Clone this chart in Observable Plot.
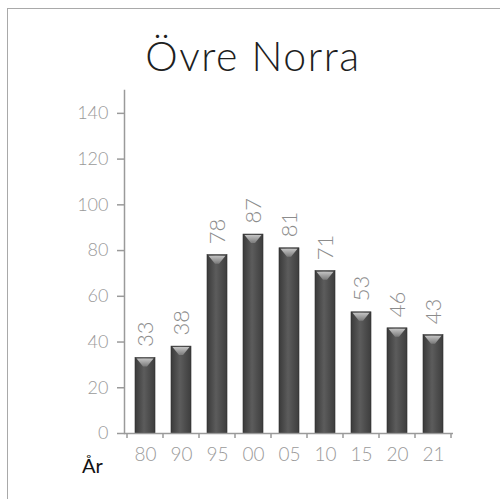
<!DOCTYPE html>
<html>
<head>
<meta charset="utf-8">
<script src="https://cdn.jsdelivr.net/npm/d3@7"></script>
<script src="https://cdn.jsdelivr.net/npm/@observablehq/plot@0.6"></script>
<style>
  html, body { margin: 0; padding: 0; background: #fff; }
  body { position: relative; width: 500px; height: 499px; overflow: hidden; font-family: Lato, "Open Sans", sans-serif; }
  #frame { position: absolute; left: 7px; top: 8px; width: 600px; height: 600px; border: 1.5px solid #a9a9a9; }
  #title { position: absolute; left: 0; top: 32px; width: 506px; text-align: center; font-size: 41px; font-weight: 300; color: #1e1e1e; letter-spacing: 1.5px; line-height: 48px; }
  #chart { position: absolute; left: 0; top: 80px; }
  #xlabel { position: absolute; left: 82px; top: 453px; font-size: 20px; color: #111; font-weight: 400; }
</style>
</head>
<body>
<div id="frame"></div>
<div id="title">Övre Norra</div>
<div id="chart"></div>
<div id="xlabel">År</div>
<script>
const years = ["80", "90", "95", "00", "05", "10", "15", "20", "21"];
const counts = [33, 38, 78, 87, 81, 71, 53, 46, 43];
const yTicks = [0, 20, 40, 60, 80, 100, 120, 140];
const xLabel = "År";

const data = years.map((y, i) => ({year: y, value: counts[i]}));

const INSET = 8;

// custom mark: top bevel of each bar
function bevel(index, scales) {
  const g = d3.create("svg:g");
  const x = scales.x, y = scales.y;
  const bw = x.bandwidth();
  for (const d of data) {
    const x0 = x(d.year) + INSET + 1.5, x1 = x(d.year) + bw - INSET - 1.5;
    const yt = y(d.value) + 1;
    const xm = (x0 + x1) / 2;
    g.append("path")
      .attr("d", `M${x0},${yt} L${x1},${yt} L${xm + 2},${yt + 8} L${xm - 2},${yt + 8} Z`)
      .attr("fill", "url(#bevelGrad)");
  }
  return g.node();
}

// band boundary ticks on x axis
function boundaryTicks(index, scales) {
  const g = d3.create("svg:g");
  const x = scales.x, y = scales.y;
  const y0 = y(0);
  const xs = years.map(v => x(v));
  xs.push(x(years[years.length - 1]) + x.step());
  for (const xv of xs) {
    g.append("line").attr("x1", xv).attr("x2", xv).attr("y1", y0).attr("y2", y0 + 5)
      .attr("stroke", "#9a9a9a").attr("stroke-width", 1.5);
  }
  return g.node();
}

const chart = Plot.plot({
  width: 500,
  height: 419,
  marginLeft: 124,
  marginRight: 47,
  marginTop: 10,
  marginBottom: 66,
  style: {fontFamily: "Lato, 'Open Sans', sans-serif", fontWeight: 300, background: "transparent", overflow: "visible"},
  x: {domain: years, paddingInner: 0, paddingOuter: 0},
  y: {domain: [0, 150]},
  marks: [
    Plot.barY(data, {x: "year", y: "value", fill: "url(#barGrad)", stroke: "#2e2e2e", strokeWidth: 0.6, insetLeft: INSET, insetRight: INSET}),
    bevel,
    Plot.text(data, {x: "year", y: "value", text: d => String(d.value), rotate: -90, textAnchor: "start", dy: -11, fontSize: 22, fill: "#8c8c8c", fontWeight: 300}),
    Plot.axisY({ticks: yTicks, tickSize: 7, tickPadding: 9, fontSize: 18, color: "#9a9a9a", strokeWidth: 1.5, label: null}),
    Plot.axisX({tickSize: 0, tickPadding: 14, fontSize: 19, color: "#9a9a9a", label: null}),
    Plot.frame({anchor: "left", stroke: "#9a9a9a", strokeWidth: 1.5}),
    Plot.ruleY([0], {stroke: "#9a9a9a", strokeWidth: 1.5}),
    boundaryTicks
  ]
});

// gradients for bars
const svg = d3.select(chart);
const defs = svg.insert("defs", ":first-child");
const bg = defs.append("linearGradient").attr("id", "barGrad").attr("x1", "0").attr("x2", "1").attr("y1", "0").attr("y2", "0");
bg.append("stop").attr("offset", "0%").attr("stop-color", "#3a3a3a");
bg.append("stop").attr("offset", "45%").attr("stop-color", "#5c5c5c");
bg.append("stop").attr("offset", "100%").attr("stop-color", "#3d3d3d");
const vg = defs.append("linearGradient").attr("id", "bevelGrad").attr("x1", "0").attr("x2", "0").attr("y1", "0").attr("y2", "1");
vg.append("stop").attr("offset", "0%").attr("stop-color", "#c4c4c4");
vg.append("stop").attr("offset", "100%").attr("stop-color", "#7a7a7a");

document.getElementById("chart").appendChild(chart);
</script>
</body>
</html>
